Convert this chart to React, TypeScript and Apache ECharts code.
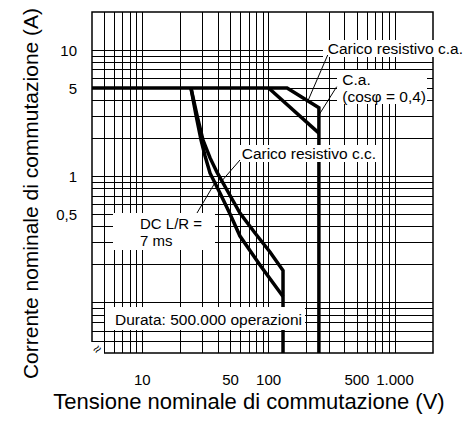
import React, { useEffect, useRef } from "react";
import * as echarts from "echarts";

// Tick labels
const xTickLabels = [10, 50, 100, 500, 1000];
const yTickLabels = [0.5, 1, 5, 10];

// Grid lines (log paper)
const xGridLines = [5, 6, 7, 8, 9, 10, 20, 30, 40, 50, 60, 70, 80, 90, 100, 200, 300, 400, 500, 600, 700, 800, 900, 1000];
const yGridLines = [0.05, 0.06, 0.07, 0.08, 0.09, 0.1, 0.2, 0.3, 0.4, 0.5, 0.6, 0.7, 0.8, 0.9, 1, 2, 3, 4, 5, 6, 7, 8, 9, 10];

// Carico resistivo c.a.
const acResistiveV = [4, 140, 250, 250];
const acResistiveA = [5, 5, 3.5, 0.04];
// C.a. (cos phi = 0,4)
const acInductiveV = [100, 250];
const acInductiveA = [5, 2.2];
// Carico resistivo c.c.
const dcResistiveV = [24.3, 27.1, 30.2, 34.4, 39, 46.8, 59.3, 78, 102.5, 130, 130];
const dcResistiveA = [5, 3.06, 1.94, 1.4, 1.08, 0.78, 0.513, 0.356, 0.252, 0.18, 0.04];
// DC L/R = 7 ms
const dcInductiveV = [24.3, 26.6, 29.2, 31.4, 34.4, 41.2, 49.5, 59.3, 85.4, 130];
const dcInductiveA = [5, 3.06, 1.94, 1.45, 1.06, 0.739, 0.504, 0.337, 0.199, 0.112];

const FONT = "'Liberation Sans', Arial, Helvetica, sans-serif";

const fmtIt = (v: number) => {
  if (v >= 1000) {
    const s = String(Math.round(v));
    return s.slice(0, s.length - 3) + "." + s.slice(-3);
  }
  return String(v).replace(".", ",");
};

const zip = (xs: number[], ys: number[]) => xs.map((x, i) => [x, ys[i]]);

const curve = (name: string, data: number[][]) => ({
  type: "line",
  name,
  data,
  symbol: "none",
  silent: true,
  z: 5,
  lineStyle: { color: "#000", width: 3.5, cap: "butt", join: "miter" },
});

const rect = (x: number, y: number, w: number, h: number) => ({
  type: "rect",
  z: 100,
  shape: { x, y, width: w, height: h },
  style: { fill: "#fff" },
});

const text = (
  x: number,
  y: number,
  t: string,
  size = 15.5,
  align = "left",
  rotation = 0,
  lineHeight?: number
) => ({
  type: "text",
  z: 102,
  x,
  y,
  rotation,
  style: {
    text: t,
    fontSize: size,
    fontFamily: FONT,
    fill: "#000",
    align,
    verticalAlign: "middle",
    textAlign: align,
    textVerticalAlign: "middle",
    ...(lineHeight ? { lineHeight } : {}),
  },
});

const leader = (x1: number, y1: number, x2: number, y2: number) => ({
  type: "line",
  z: 103,
  shape: { x1, y1, x2, y2 },
  style: { stroke: "#000", lineWidth: 1 },
});

export default function App() {
  const ref = useRef<HTMLDivElement>(null);
  useEffect(() => {
    if (!ref.current) return;
    const chart = echarts.init(ref.current, null, { renderer: "svg" });
    const option: any = {
      animation: false,
      backgroundColor: "#fff",
      grid: {
        left: 92,
        top: 12,
        width: 341,
        height: 341,
        show: true,
        borderColor: "#000",
        borderWidth: 1.5,
        backgroundColor: "transparent",
      },
      xAxis: {
        type: "log",
        logBase: 10,
        min: 4,
        max: 2000,
        axisLine: { show: false },
        axisTick: { show: false },
        splitLine: { show: false },
        minorSplitLine: { show: false },
        axisLabel: {
          customValues: xTickLabels,
          formatter: (v: number) => fmtIt(v),
          fontSize: 15,
          fontFamily: FONT,
          color: "#000",
          margin: 19,
        },
      },
      yAxis: {
        type: "log",
        logBase: 10,
        min: 0.04,
        max: 20,
        axisLine: { show: false },
        axisTick: { show: false },
        splitLine: { show: false },
        axisLabel: {
          customValues: yTickLabels,
          formatter: (v: number) => fmtIt(v),
          fontSize: 15,
          fontFamily: FONT,
          color: "#000",
          margin: 15,
        },
      },
      series: [
        {
          type: "line",
          data: [[4, 0.04]],
          symbol: "none",
          silent: true,
          lineStyle: { width: 0 },
          z: 2,
          markLine: {
            silent: true,
            symbol: ["none", "none"],
            label: { show: false },
            emphasis: { disabled: true },
            lineStyle: { color: "#000", width: 1, type: "solid", opacity: 1 },
            data: [
              ...xGridLines.map((v) => ({ xAxis: v })),
              ...yGridLines.map((v) => ({ yAxis: v })),
            ],
          },
        },
        curve("Carico resistivo c.a.", zip(acResistiveV, acResistiveA)),
        curve("C.a. (cosφ = 0,4)", zip(acInductiveV, acInductiveA)),
        curve("Carico resistivo c.c.", zip(dcResistiveV, dcResistiveA)),
        curve("DC L/R = 7 ms", zip(dcInductiveV, dcInductiveA)),
      ],
      graphic: [
        // white label boxes
        rect(323, 40, 144, 17),
        rect(337, 70, 90, 34),
        rect(239, 145, 142, 17),
        rect(113, 213, 102, 37),
        rect(105, 307, 200, 23),
        rect(89, 342, 15, 14),
        // labels
        text(327.7, 48, "Carico resistivo c.a."),
        text(342.3, 79.5, "C.a."),
        text(342.3, 96, "(cosφ = 0,4)"),
        text(241.7, 153, "Carico resistivo c.c."),
        text(140, 223.5, "DC L/R =", 15),
        text(140, 240, "7 ms", 15),
        text(115, 319.5, "Durata: 500.000 operazioni"),
        text(97, 349, "≈", 14, "center", Math.PI / 4),
        // leader lines
        leader(327.7, 55, 308.3, 100),
        leader(336.7, 86.7, 318.3, 116),
        leader(240, 160, 220, 183),
        leader(197, 213, 216, 181),
        // axis titles
        text(249, 401, "Tensione nominale di commutazione (V)", 22, "center"),
        text(30, 193.5, "Corrente nominale di commutazione (A)", 21, "center", Math.PI / 2),
      ],
    };
    chart.setOption(option);
    return () => chart.dispose();
  }, []);
  return (
    <div
      ref={ref}
      style={{ position: "absolute", left: 0, top: 0, width: 467, height: 430, background: "#fff" }}
    />
  );
}
